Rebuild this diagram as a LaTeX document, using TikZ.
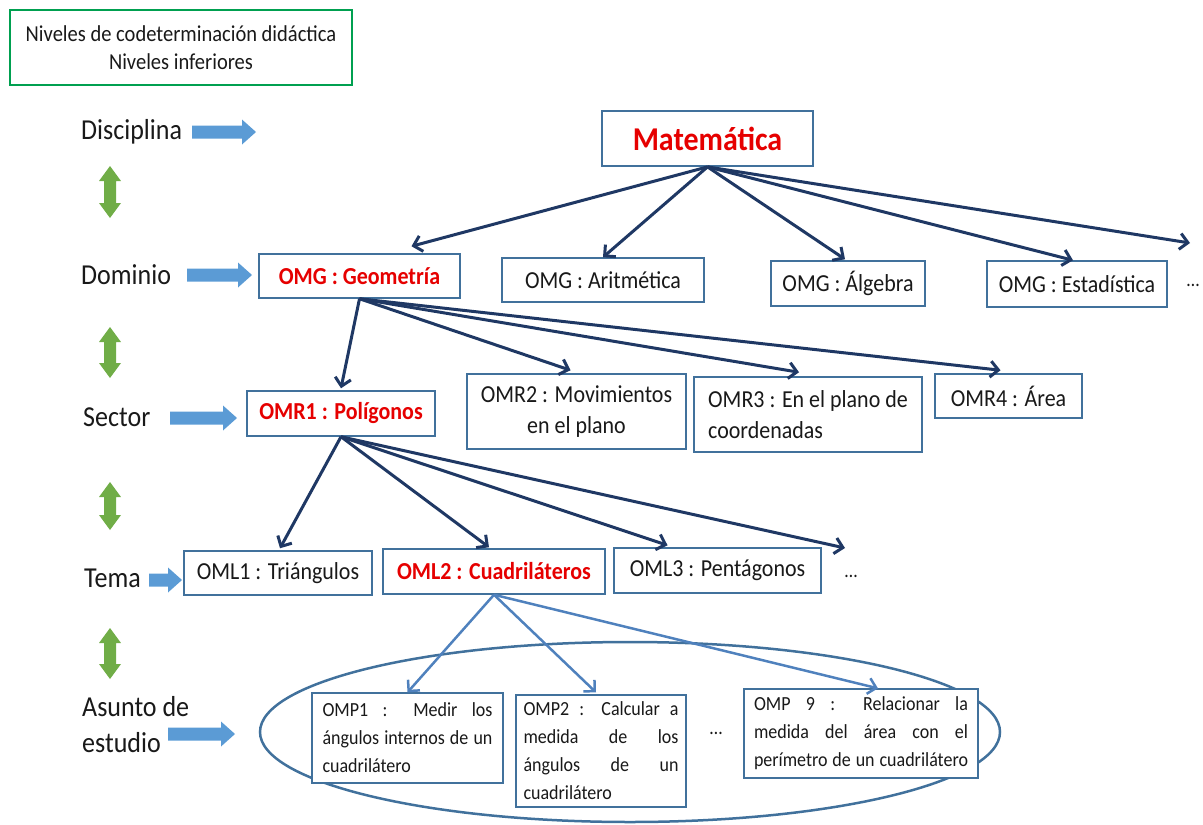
\documentclass[tikz,border=0pt]{standalone}
\usepackage{fontspec}
\setmainfont{Carlito}[FakeStretch=0.9]
\usetikzlibrary{arrows.meta,calc,shapes.geometric}

\definecolor{boxblue}{RGB}{65,113,156}
\definecolor{navy}{RGB}{31,56,100}
\definecolor{lblue}{RGB}{79,129,189}
\definecolor{ablue}{RGB}{91,155,213}
\definecolor{agreen}{RGB}{112,173,71}
\definecolor{tgreen}{RGB}{0,160,80}
\definecolor{mred}{RGB}{230,0,0}
\definecolor{ink}{RGB}{25,25,25}

% block arrow pointing right: x1, x2, y
\newcommand\blockarr[3]{%
  \fill[ablue] (#1,#3-6.5) -- (#2-14,#3-6.5) -- (#2-14,#3-12.5) -- (#2,#3)
    -- (#2-14,#3+12.5) -- (#2-14,#3+6.5) -- (#1,#3+6.5) -- cycle;}
% green double arrow: x, ytop, ybottom
\newcommand\greenarr[3]{%
  \fill[agreen] (#1,#2) -- (#1+11,#2+15) -- (#1+6,#2+15) -- (#1+6,#3-15)
    -- (#1+11,#3-15) -- (#1,#3) -- (#1-11,#3-15) -- (#1-6,#3-15)
    -- (#1-6,#2+15) -- (#1-11,#2+15) -- cycle;}
% justified line of given width
\newcommand\jline[2]{\makebox[#1pt][s]{#2}}

\begin{document}
\begin{tikzpicture}[x=1pt,y=-1pt,
  box/.style={draw=boxblue, line width=1.5pt, fill=white, inner sep=0pt,
    align=center, text=ink, font=\fontsize{24.4}{31}\selectfont},
  hot/.style={text=mred, font=\fontsize{24.4}{31}\selectfont\bfseries},
  lab/.style={anchor=west, inner sep=0pt, align=left, text=ink,
    font=\fontsize{28.9}{36}\selectfont},
  dots/.style={inner sep=0pt, text=ink, font=\fontsize{20}{20}\selectfont},
  omp/.style={draw=boxblue, line width=1.3pt, fill=white, inner sep=0pt,
    align=left, text=ink, font=\fontsize{20}{28}\selectfont},
  link/.style={draw=navy, line width=3pt,
    -{Straight Barb[length=8pt,width=16pt]}},
  sublink/.style={draw=lblue, line width=2.5pt,
    -{Straight Barb[length=8pt,width=16pt]}},
]
\useasboundingbox (0,0) rectangle (1203,825);

% title
\node[draw=tgreen, line width=2.2pt, minimum width=342, minimum height=75,
  align=center, inner sep=0pt, text=ink, font=\fontsize{22.8}{28}\selectfont]
  (title) at (181,47.5) {Niveles de codeterminación didáctica\\Niveles inferiores};

% level labels
\node[lab] (ldis) at (81,132) {Disciplina};
\node[lab] (ldom) at (81,275) {Dominio};
\node[lab] (lsec) at (83,417) {Sector};
\node[lab] (ltem) at (84,578) {Tema};
\node[lab] (lasu) at (82,725) {Asunto de\\estudio};

% block arrows
\blockarr{192}{256}{132}
\blockarr{187}{252}{275}
\blockarr{170}{237}{418}
\blockarr{149}{182}{580}
\blockarr{168}{235}{734}

% green double arrows
\greenarr{110}{166}{218}
\greenarr{110}{327}{378}
\greenarr{110}{482}{530}
\greenarr{110}{628}{679}

% ellipse for study subjects
\node[draw=boxblue, line width=2.5pt, ellipse, minimum width=740,
  minimum height=180, inner sep=0pt] (ell) at (630,732) {};

% discipline
\node[box, line width=1.8pt, minimum width=211, minimum height=55,
  text=mred, font=\fontsize{33.3}{36}\selectfont\bfseries] (mat) at (707.5,138.5) {Matemática};

% domains
\node[box, hot, minimum width=201, minimum height=44] (geo) at (359.5,276) {OMG : Geometría};
\node[box, minimum width=202, minimum height=44] (ari) at (603,280) {OMG : Aritmética};
\node[box, minimum width=154, minimum height=45] (alg) at (848,283.5) {OMG : Álgebra};
\node[box, minimum width=180, minimum height=46] (est) at (1077,284) {OMG : Estadística};
\node[dots] (domdots) at (1193,285) {…};

% sectors
\node[box, hot, minimum width=188, minimum height=45] (omr1) at (341,413.5) {OMR1 : Polígonos};
\node[box, minimum width=219, minimum height=75] (omr2) at (576.5,411.5) {OMR2 : Movimientos\\en el plano};
\node[box, align=left, minimum width=228, minimum height=75] (omr3) at (808,414.5) {OMR3 : En el plano de\\coordenadas};
\node[box, minimum width=147, minimum height=44] (omr4) at (1008.5,396) {OMR4 : Área};

% themes
\node[box, minimum width=188, minimum height=44] (oml1) at (278,573) {OML1 : Triángulos};
\node[box, hot, minimum width=222, minimum height=45] (oml2) at (494,571.5) {OML2 : Cuadriláteros};
\node[box, minimum width=207, minimum height=45] (oml3) at (717.5,570.5) {OML3 : Pentágonos};
\node[dots] (temdots) at (851,576) {…};

% study subjects
\node[omp, minimum width=191, minimum height=90] (omp1) at (407.5,738)
  {\jline{170}{OMP1 : Medir los}\\
   \jline{170}{ángulos internos de un}\\
   cuadrilátero};
\node[omp, minimum width=170, minimum height=112] (omp2) at (601,751)
  {\jline{155}{OMP2 : Calcular a}\\
   \jline{155}{medida de los}\\
   \jline{155}{ángulos de un}\\
   cuadrilátero};
\node[dots] (ompdots) at (716,733) {…};
\node[omp, minimum width=234, minimum height=89] (omp9) at (861,733.5)
  {\jline{214}{OMP 9 : Relacionar la}\\
   \jline{214}{medida del área con el}\\
   \jline{214}{perímetro de un cuadrilátero}};

% connectors: discipline -> domains
\coordinate (dommore) at (1190,243);
\draw[link] (mat.south) -- ($(geo.north)+(52,-7)$);
\draw[link] (mat.south) -- (ari.north);
\draw[link] (mat.south) -- ($(alg.north)+(-3,-1)$);
\draw[link] (mat.south) -- ($(est.north)+(-4,0)$);
\draw[link] (mat.south) -- (dommore);

% domain -> sectors
\draw[link] (geo.south) -- ($(omr1.north)+(0,-2)$);
\draw[link] (geo.south) -- ($(omr2.north)+(-6,-3)$);
\draw[link] (geo.south) -- ($(omr3.north)+(-9,-4)$);
\draw[link] (geo.south) -- ($(omr4.north)+(-8,-3)$);

% sector -> themes
\coordinate (temmore) at (845,548);
\draw[link] (omr1.south) -- ($(oml1.north)+(2,-2)$);
\draw[link] (omr1.south) -- ($(oml2.north)+(-5,-1)$);
\draw[link] (omr1.south) -- ($(oml3.north)+(-50,-2)$);
\draw[link] (omr1.south) -- (temmore);

% theme -> study subjects
\draw[sublink] (oml2.south) -- (omp1.north);
\draw[sublink] (oml2.south) -- ($(omp2.north)+(-5,-2)$);
\draw[sublink] (oml2.south) -- ($(omp9.north)+(17,0)$);
\end{tikzpicture}
\end{document}
